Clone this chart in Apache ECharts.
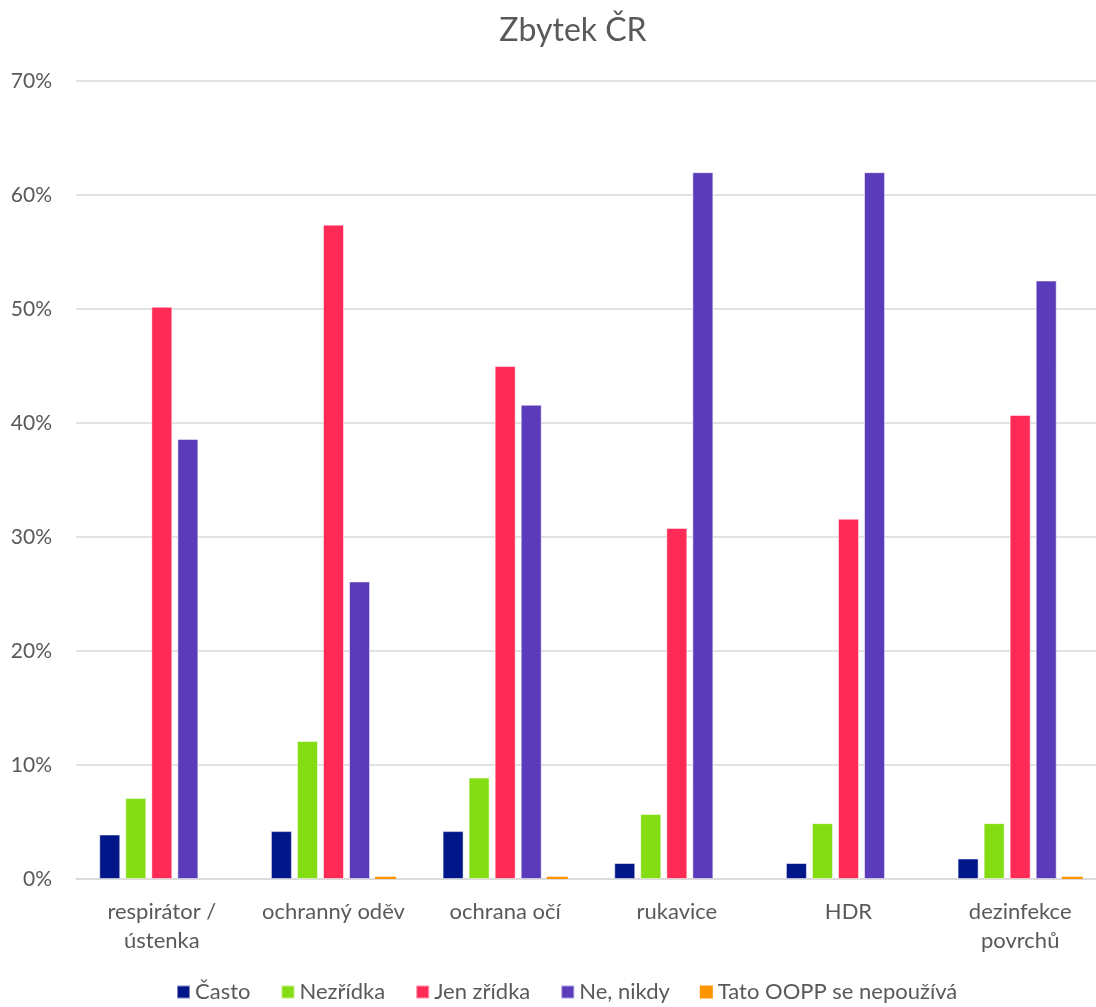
<!DOCTYPE html>
<html>
<head>
<meta charset="utf-8">
<script src="https://cdn.jsdelivr.net/npm/echarts@6/dist/echarts.min.js"></script>
<style>
  html, body { margin: 0; padding: 0; background: #fff; }
  #chart { width: 1096px; height: 1007px; }
</style>
</head>
<body>
<div id="chart"></div>
<script>
// kategorie a hodnoty (%)
const categories = ["respirátor /\nústenka", "ochranný oděv", "ochrana očí", "rukavice", "HDR", "dezinfekce\npovrchů"];
const casto = [3.9, 4.2, 4.2, 1.4, 1.4, 1.8];
const nezridka = [7.1, 12.1, 8.9, 5.7, 4.9, 4.9];
const jenZridka = [50.2, 57.4, 45.0, 30.8, 31.6, 40.7];
const neNikdy = [38.6, 26.1, 41.6, 62.0, 62.0, 52.5];
const nepouziva = [0, 0.2, 0.2, 0, 0, 0.2];

const names = ["Často", "Nezřídka", "Jen zřídka", "Ne, nikdy", "Tato OOPP se nepoužívá"];
const colors = ["#001689", "#84DC12", "#FF2A55", "#5A3BB9", "#FF9500"];
const values = [casto, nezridka, jenZridka, neNikdy, nepouziva];

const font = "Lato, 'Liberation Sans', sans-serif";
const myChart = echarts.init(document.getElementById("chart"));

const option = {
  animation: false,
  textStyle: { fontFamily: font },
  title: {
    text: "Zbytek ČR",
    left: 568,
    top: 10,
    textAlign: "center",
    textStyle: { fontSize: 32, fontWeight: "normal", color: "#595959", fontFamily: font }
  },
  legend: {
    top: 981,
    left: 176,
    padding: 0,
    itemWidth: 13,
    itemHeight: 13,
    itemGap: 30,
    icon: "rect",
    textStyle: { fontSize: 22, color: "#595959", padding: [0, 0, 0, 0] },
    data: names
  },
  grid: {
    left: 76,
    top: 81,
    width: 1030,
    height: 798,
    outerBoundsMode: "none",
    containLabel: false
  },
  xAxis: {
    type: "category",
    data: categories,
    axisTick: { show: false },
    axisLine: { lineStyle: { color: "#d9d9d9", width: 1.5 } },
    axisLabel: { interval: 0, fontSize: 22, color: "#595959", margin: 18, lineHeight: 29 }
  },
  yAxis: {
    type: "value",
    min: 0,
    max: 70,
    interval: 10,
    axisLabel: { formatter: "{value}%", fontSize: 21, color: "#595959", margin: 24 },
    splitLine: { lineStyle: { color: "#d9d9d9", width: 1.5 } }
  },
  series: names.map((n, i) => ({
    name: n,
    type: "bar",
    data: values[i],
    barWidth: 21,
    barGap: "24%",
    itemStyle: i === 4
      ? { color: colors[i] }
      : { color: colors[i], borderColor: "rgba(255,255,255,0.5)", borderWidth: 1 }
  }))
};
option && myChart.setOption(option);
</script>
</body>
</html>
